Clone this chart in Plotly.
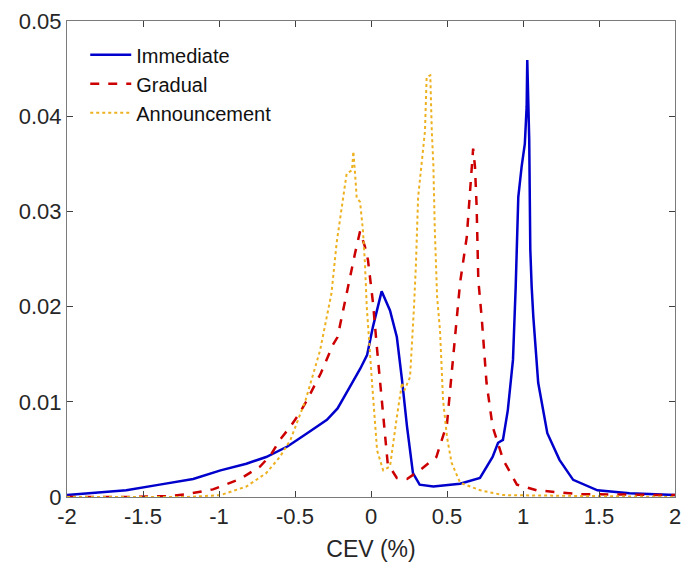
import plotly.graph_objects as go

# Immediate
imm_x = [-2.0, -1.83, -1.61, -1.39, -1.17, -0.99, -0.82, -0.69, -0.55, -0.42, -0.29, -0.22, -0.18, -0.138,
         -0.07, -0.026, 0.013, 0.07, 0.125, 0.17, 0.204, 0.237, 0.276, 0.32, 0.41, 0.586, 0.717, 0.80, 0.836,
         0.868, 0.90, 0.934, 0.952, 0.969, 0.991, 1.012, 1.024, 1.028, 1.041, 1.048, 1.057, 1.068, 1.10, 1.16,
         1.24, 1.33, 1.49, 1.70, 2.0]
imm_y = [0.0002, 0.0004, 0.0007, 0.0013, 0.0019, 0.0028, 0.0035, 0.0042, 0.0053, 0.0067, 0.0081, 0.0093, 0.0105, 0.0116,
         0.0135, 0.0149, 0.0179, 0.0216, 0.0196, 0.0168, 0.0123, 0.0074, 0.0025, 0.0013, 0.0011, 0.0014, 0.002, 0.0042, 0.0057,
         0.006, 0.0091, 0.0144, 0.0221, 0.0315, 0.0347, 0.0371, 0.041, 0.0459, 0.0375, 0.026, 0.0221, 0.0189, 0.012, 0.0067,
         0.0039, 0.0018, 0.0007, 0.0004, 0.0002]

# Gradual
grad_x = [-2.0, -1.61, -1.32, -1.21, -1.04, -0.86, -0.73, -0.66, -0.60, -0.53, -0.47, -0.42, -0.33, -0.25, -0.22,
          -0.16, -0.105, -0.072, -0.04, -0.02, 0.013, 0.04, 0.08, 0.11, 0.17, 0.237, 0.32, 0.43, 0.5, 0.54, 0.586,
          0.63, 0.65, 0.66, 0.672, 0.684, 0.695, 0.706, 0.728, 0.76, 0.80, 0.87, 0.96, 1.09, 1.375, 2.0]
grad_y = [0.0, 0.0, 0.0001, 0.0003, 0.0008, 0.0019, 0.0032, 0.0044, 0.006, 0.0074, 0.0088, 0.0102, 0.013, 0.016, 0.0168,
          0.0215, 0.0256, 0.0279, 0.0263, 0.0249, 0.0204, 0.0155, 0.0084, 0.0035, 0.002, 0.0019, 0.0028, 0.0042, 0.0077, 0.0144, 0.0225,
          0.0273, 0.0322, 0.0347, 0.0366, 0.0347, 0.0305, 0.0228, 0.0189, 0.012, 0.0074, 0.0039, 0.0013, 0.0007, 0.0003, 0.0002]

# Announcement
ann_x = [-2.0, -1.21, -0.99, -0.82, -0.69, -0.60, -0.53, -0.49, -0.43, -0.335, -0.26, -0.226, -0.184, -0.16,
         -0.125, -0.116, -0.105, -0.094, -0.072, -0.053, -0.04, -0.028, 0.007, 0.04, 0.08, 0.125, 0.17, 0.204,
         0.22, 0.257, 0.283, 0.296, 0.31, 0.333, 0.355, 0.366, 0.39, 0.40, 0.41, 0.42, 0.435, 0.454, 0.474,
         0.5, 0.53, 0.586, 0.72, 0.87, 2.0]
ann_y = [0.0, 0.0, 0.0002, 0.0011, 0.0025, 0.0042, 0.006, 0.0077, 0.0102, 0.0154, 0.0214, 0.0267, 0.0315, 0.034,
         0.0343, 0.0363, 0.034, 0.0314, 0.031, 0.028, 0.0246, 0.02, 0.012, 0.0049, 0.0028, 0.0032, 0.0084, 0.012,
         0.0112, 0.0126, 0.02, 0.0246, 0.0315, 0.035, 0.0384, 0.0441, 0.0443, 0.0384, 0.035, 0.028, 0.021, 0.0175, 0.0102,
         0.0063, 0.0036, 0.0015, 0.0007, 0.0002, 0.0]

x_ticks = [-2, -1.5, -1, -0.5, 0, 0.5, 1, 1.5, 2]
x_tick_labels = ["-2", "-1.5", "-1", "-0.5", "0", "0.5", "1", "1.5", "2"]
y_ticks = [0, 0.01, 0.02, 0.03, 0.04, 0.05]
y_tick_labels = ["0", "0.01", "0.02", "0.03", "0.04", "0.05"]

fig = go.Figure()
fig.add_trace(go.Scatter(x=imm_x, y=imm_y, mode="lines", name="Immediate",
                         line=dict(color="#0000CC", width=2.5)))
fig.add_trace(go.Scatter(x=grad_x, y=grad_y, mode="lines", name="Gradual",
                         line=dict(color="#CC0000", width=2.5, dash="dash")))
fig.add_trace(go.Scatter(x=ann_x, y=ann_y, mode="lines", name="Announcement",
                         line=dict(color="#EDB120", width=2, dash="dot")))

axis_common = dict(showgrid=False, zeroline=False, showline=True, linecolor="#7a7a7a", linewidth=1,
                   mirror="ticks", ticks="inside", ticklen=6, tickcolor="#404040",
                   ticklabeloverflow="allow",
                   tickfont=dict(family="Liberation Sans, Arial", size=22, color="#262626"))

fig.update_layout(
    width=684, height=564,
    paper_bgcolor="white", plot_bgcolor="white",
    margin=dict(l=67, r=9, t=21, b=67),
    font=dict(family="Liberation Sans, Arial", color="#262626"),
    xaxis=dict(range=[-2, 2], tickvals=x_ticks, ticktext=x_tick_labels,
               title=dict(text="CEV (%)", font=dict(size=23, color="#262626"), standoff=12),
               automargin=False, **axis_common),
    yaxis=dict(range=[0, 0.05], tickvals=y_ticks, ticktext=y_tick_labels, automargin=False,
               **axis_common),
    legend=dict(x=0.03, y=0.97, xanchor="left", yanchor="top", bgcolor="rgba(255,255,255,0)",
                font=dict(size=20, color="#111111"), borderwidth=0, itemwidth=41),
    showlegend=True,
)

fig.write_html("out.html", config={"displayModeBar": False},
               post_script="document.body.style.margin='0px';document.body.style.overflow='hidden';")
